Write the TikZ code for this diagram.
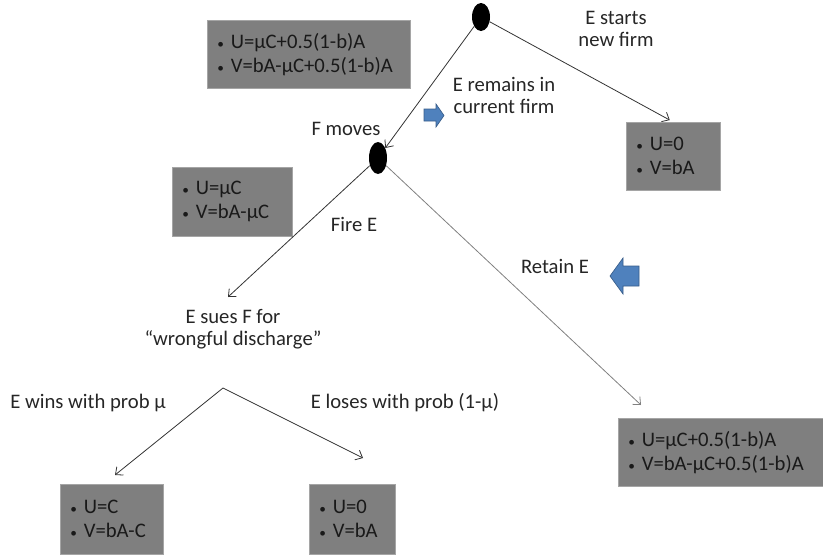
\documentclass[tikz,border=0pt]{standalone}
\usepackage{fontspec}
\setmainfont{Carlito}
\usetikzlibrary{arrows.meta,shapes.geometric}
\definecolor{payfill}{HTML}{7F7F7F}
\definecolor{paybd}{HTML}{A5A5A5}
\definecolor{blk}{HTML}{4F81BD}
\definecolor{blkbd}{HTML}{385D8A}
\newcommand\payline[1]{\mbox{{\fontsize{10}{10}\selectfont\textbullet}\ #1}}
\tikzset{
  pay/.style 2 args={draw=paybd, fill=payfill, anchor=north west, align=left,
    inner xsep=7.5pt, inner ysep=0pt, text width=#1, minimum height=#2,
    text=black!90, font=\fontsize{15.5}{18}\selectfont},
  lbl/.style={align=center, text=black!85, font=\fontsize{15.5}{16.5}\selectfont},
  dec/.style={ellipse, fill=black, inner sep=0pt, minimum width=13.5pt},
  mv/.style={draw=black!80, line width=0.6pt, -{Straight Barb[length=4.5pt,width=8pt]}},
  blockarr/.style={fill=blk, draw=blkbd, line width=0.5pt}
}
\begin{document}
\begin{tikzpicture}[x=0.75pt,y=-0.75pt]
\useasboundingbox (0,0) rectangle (823,554);
% decision nodes
\node[dec, minimum height=21pt] (top) at (481,17) {};
\node[dec, minimum height=24pt] (fmv) at (378,158) {};
\coordinate (sue) at (223,388);
\coordinate (fireend) at (228,297);
\coordinate (retainend) at (641,405);
\coordinate (winend) at (115,475);
\coordinate (loseend) at (363,458);
% payoff boxes
\node[pay={137.25pt}{51pt}] (stay) at (207,20) {\payline{U=μC+0.5(1-b)A}\\\payline{V=bA-μC+0.5(1-b)A}};
\node[pay={55.5pt}{51pt}] (new) at (626,122) {\payline{U=0}\\\payline{V=bA}};
\node[pay={75pt}{51.75pt}] (fire) at (172,167) {\payline{U=μC}\\\payline{V=bA-μC}};
\node[pay={138.75pt}{51pt}] (retain) at (618,418) {\payline{U=μC+0.5(1-b)A}\\\payline{V=bA-μC+0.5(1-b)A}};
\node[pay={62.25pt}{52.5pt}] (win) at (60,484) {\payline{U=C}\\\payline{V=bA-C}};
\node[pay={49.5pt}{52.5pt}] (lose) at (309,484) {\payline{U=0}\\\payline{V=bA}};
% moves
\draw[mv] (top) -- (fmv);
\draw[mv] (top) -- (new.north) [shorten >=3pt];
\draw[mv] (fmv) -- (fireend);
\draw[mv, draw=black!50] (fmv) -- (retainend);
\draw[mv] (sue) -- (winend);
\draw[mv] (sue) -- (loseend);
% labels
\node[lbl] (startlbl) at (616,29) {E starts\\new firm};
\node[lbl] (remainlbl) at (504,95) {E remains in\\current firm};
\node[lbl] (fmovelbl) at (346,129) {F moves};
\node[lbl] (firelbl) at (354,224) {Fire E};
\node[lbl] (retainlbl) at (555,266) {Retain E};
\node[lbl] (suelbl) at (233,329) {E sues F for\\“wrongful discharge”};
\node[lbl] (winlbl) at (88,403) {E wins with prob μ};
\node[lbl] (loselbl) at (405,403) {E loses with prob (1-μ)};
% block arrows
\filldraw[blockarr] (424,109) -- (436,109) -- (436,104) -- (444,115.5) -- (436,127) -- (436,121) -- (424,121) -- cycle;
\filldraw[blockarr] (639,266) -- (623,266) -- (623,258) -- (610,276) -- (623,294) -- (623,286) -- (639,286) -- cycle;
\end{tikzpicture}
\end{document}
